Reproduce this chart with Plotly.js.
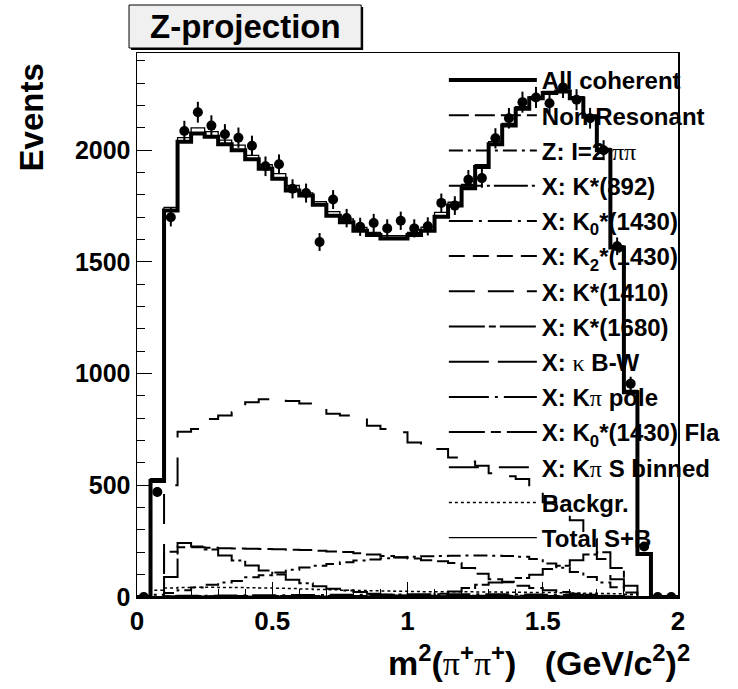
<!DOCTYPE html>
<html>
<head>
<meta charset="utf-8">
<script src="https://cdn.plot.ly/plotly-3.0.1.min.js"></script>
<style>html,body{margin:0;padding:0;background:#fff;}#plot{width:738px;height:689px;}</style>
</head>
<body>
<div id="plot"></div>
<script>
// bin centres of m^2(pi+pi+) (GeV/c^2)^2, bin width 0.05
const binCenters = [0.025,0.075,0.125,0.175,0.225,0.275,0.325,0.375,0.425,0.475,
  0.525,0.575,0.625,0.675,0.725,0.775,0.825,0.875,0.925,0.975,
  1.025,1.075,1.125,1.175,1.225,1.275,1.325,1.375,1.425,1.475,
  1.525,1.575,1.625,1.675,1.725,1.775,1.825,1.875,1.925,1.975];
const binWidth = 0.05;

// data points (events)
const dataEvents = [0,470,1700,2086,2170,2110,2071,2056,2020,1928,
  1937,1827,1808,1589,1779,1696,1657,1674,1650,1684,
  1650,1659,1764,1752,1868,1875,2053,2143,2215,2236,
  2210,2281,2226,2143,2000,1570,955,226,0,0];

const allCoherent = [0,519,1730,2038,2075,2060,2026,2000,1959,1917,
  1872,1820,1797,1756,1707,1677,1639,1620,1605,1605,
  1620,1639,1702,1752,1830,1925,2026,2110,2185,2233,
  2256,2263,2233,2150,2000,1564,917,193,0,0];

const totalSB = [0,530,1744,2056,2100,2083,2045,2023,1977,1935,
  1895,1842,1809,1770,1725,1692,1654,1632,1617,1617,
  1632,1655,1722,1767,1847,1935,2038,2120,2195,2240,
  2263,2270,2240,2158,2008,1572,925,198,0,0];

const nonResonant = [0,0,203,223,223,220,218,217,216,215,
  214,212,210,207,204,201,196,190,184,178,
  172,165,160,152,130,104,80,66,50,40,
  30,22,15,10,5,2,0,0,0,0];

const zI2pipi = [0,10,18,30,42,55,65,72,88,97,
  110,122,132,140,148,155,163,168,174,177,
  180,182,184,185,186,186,185,184,180,170,
  150,131,112,89,65,44,20,0,0,0];

const kst892 = [0,0,90,242,226,213,186,163,141,119,
  101,77,62,48,37,29,22,14,10,7,
  5,4,3,3,2,2,2,1,1,1,
  1,1,1,1,1,0,0,0,0,0];

const k0st1430 = [0,0,4,6,6,6,7,7,8,8,
  8,9,9,9,10,10,10,11,11,11,
  12,12,12,12,12,12,12,12,11,11,
  10,10,9,8,6,4,2,0,0,0];

const k2st1430 = [0,0,2,3,3,3,3,4,4,4,
  4,4,5,5,5,5,5,6,6,6,
  6,6,6,6,6,6,6,6,6,5,
  5,5,4,4,3,2,1,0,0,0];

const kst1410 = [0,0,3,4,4,4,4,4,4,4,
  4,4,4,4,4,4,4,4,4,4,
  4,4,4,4,4,4,4,4,4,4,
  4,4,4,3,3,2,1,0,0,0];

const kst1680 = [0,0,0,0,0,0,0,0,0,0,
  0,0,0,0,0,0,0,0,0,1,
  3,5,15,25,40,55,65,68,85,100,
  125,140,165,190,200,130,50,0,0,0];

const kappaBW = [0,0,1,1,1,1,1,1,1,1,
  1,1,1,1,1,1,1,1,1,1,
  1,1,1,1,1,1,1,1,1,1,
  1,1,1,1,1,1,0,0,0,0];

const kpiPole = [0,0,1,1,1,1,1,1,1,1,
  1,1,1,1,1,1,1,1,1,1,
  1,1,1,1,1,1,1,1,1,1,
  1,1,1,1,1,1,0,0,0,0];

const k0st1430Fla = [0,0,1,1,1,1,1,1,1,1,
  1,1,1,1,1,1,1,1,1,1,
  1,1,1,1,1,1,1,1,1,1,
  1,1,1,1,1,1,0,0,0,0];

const kpiSbinned = [0,0,500,740,752,797,812,827,872,885,
  892,877,866,854,820,812,805,767,752,737,
  692,677,662,624,606,588,554,540,528,468,
  424,387,343,260,170,80,0,0,0,0];

const background = [0,30,40,42,44,44,43,42,41,40,
  39,38,36,34,32,30,29,28,27,26,
  25,24,24,23,23,22,22,21,21,20,
  20,19,18,17,16,15,12,0,0,0];

const greek = s => '<span style="font-family:\'Liberation Serif\';font-weight:normal">' + s + '</span>';
const seriesNames = ['All coherent','Non Resonant',
  'Z: I=2 ' + greek('ππ'),
  'X: K*(892)','X: K<sub>0</sub>*(1430)','X: K<sub>2</sub>*(1430)','X: K*(1410)','X: K*(1680)',
  'X: ' + greek('κ') + ' B-W',
  'X: K' + greek('π') + ' pole',
  'X: K<sub>0</sub>*(1430) Fla',
  'X: K' + greek('π') + ' S binned',
  'Backgr.','Total S+B'];
const seriesValues = [allCoherent,nonResonant,zI2pipi,kst892,k0st1430,k2st1430,kst1410,kst1680,
  kappaBW,kpiPole,k0st1430Fla,kpiSbinned,background,totalSB];

const styles = [
  {width:4, dash:'solid'},
  {width:2, dash:'20px,6px'},
  {width:2, dash:'14px,5px,3px,5px'},
  {width:2, dash:'34px,4px,3px,4px'},
  {width:2, dash:'24px,6px,3px,6px'},
  {width:2, dash:'16px,8px'},
  {width:2, dash:'26px,13px'},
  {width:2, dash:'36px,4px,7px,4px'},
  {width:2, dash:'40px,9px'},
  {width:2, dash:'40px,6px,3px,6px'},
  {width:2, dash:'36px,6px,10px,6px'},
  {width:2, dash:'30px,20px'},
  {width:1.5, dash:'3px,3px'},
  {width:1.3, dash:'solid'}
];

// histogram edges from bin centres
const edges = binCenters.map(c => c - binWidth/2).concat([binCenters[binCenters.length-1] + binWidth/2]);
function stepY(v){ return v.concat([v[v.length-1]]); }

const traces = seriesValues.map((v,i) => ({
  type:'scatter', mode:'lines', x:edges, y:stepY(v), name:seriesNames[i],
  line:{shape:'hv', color:'#000', width:styles[i].width, dash:styles[i].dash},
  legendgroup:'g'+i, hoverinfo:'skip'
}));

traces.push({
  type:'scatter', mode:'markers', x:binCenters, y:dataEvents, showlegend:false,
  marker:{symbol:'circle', size:10, color:'#000'},
  error_y:{type:'sqrt', visible:true, color:'#000', thickness:2, width:0},
  hoverinfo:'skip'
});

const fontFam = 'Liberation Sans, Arial, Helvetica, sans-serif';
const L = 137, R = 58, T = 53, B = 92, W = 738, H = 689;
const pw = W - L - R, ph = H - T - B;
function px2x(p){ return (p - L)/pw; }
function px2y(p){ return (H - B - p)/ph; }

const layout = {
  width:W, height:H,
  margin:{l:L, r:R, t:T, b:B, pad:0},
  paper_bgcolor:'#fff', plot_bgcolor:'#fff',
  showlegend:true,
  legend:{x:px2x(445), y:px2y(58), xanchor:'left', yanchor:'top', bgcolor:'rgba(0,0,0,0)',
    borderwidth:0, itemwidth:88, tracegroupgap:1,
    font:{family:fontFam, size:24, weight:'bold', color:'#000'}},
  xaxis:{range:[0,2], showgrid:false, zeroline:false, showline:true, mirror:true, linecolor:'#000', linewidth:1.5,
    ticks:'inside', ticklen:15, tickwidth:1, tickcolor:'#000', dtick:0.5, tick0:0,
    minor:{ticks:'inside', ticklen:8, dtick:0.1, tickcolor:'#000', tickwidth:1},
    tickfont:{family:fontFam, size:26, weight:'bold', color:'#000'}},
  yaxis:{range:[0,2435], showgrid:false, zeroline:false, showline:true, mirror:true, linecolor:'#000', linewidth:1.5,
    ticks:'inside', ticklen:15, tickwidth:1, tickcolor:'#000', dtick:500, tick0:0,
    minor:{ticks:'inside', ticklen:8, dtick:100, tickcolor:'#000', tickwidth:1},
    tickfont:{family:fontFam, size:25, weight:'bold', color:'#000'}},
  shapes:[
    {type:'rect', xref:'paper', yref:'paper', x0:px2x(131), x1:px2x(364), y0:px2y(50), y1:px2y(7),
      fillcolor:'#000', line:{width:0}, layer:'above'},
    {type:'rect', xref:'paper', yref:'paper', x0:px2x(129), x1:px2x(362), y0:px2y(48), y1:px2y(5),
      fillcolor:'#f0f0f0', line:{width:1, color:'#000'}, layer:'above'}
  ],
  annotations:[
    {text:'Z-projection', xref:'paper', yref:'paper', x:px2x(245.5), y:px2y(27), xanchor:'center', yanchor:'middle',
      showarrow:false, font:{family:fontFam, size:33, weight:'bold', color:'#000'}},
    {text:'Events', xref:'paper', yref:'paper', x:px2x(31), y:px2y(117), xanchor:'center', yanchor:'middle',
      textangle:-90, showarrow:false, font:{family:fontFam, size:33, weight:'bold', color:'#000'}},
    {text:'m<sup>2</sup>(' + greek('π') + '<sup>+</sup>' + greek('π') + '<sup>+</sup>)&nbsp;&nbsp;&nbsp;(GeV/c<sup>2</sup>)<sup>2</sup>',
      xref:'paper', yref:'paper',
      x:px2x(694), y:px2y(660), xanchor:'right', yanchor:'middle', showarrow:false,
      font:{family:fontFam, size:34, weight:'bold', color:'#000'}}
  ]
};

Plotly.newPlot('plot', traces, layout, {displayModeBar:false, staticPlot:true});
</script>
</body>
</html>
